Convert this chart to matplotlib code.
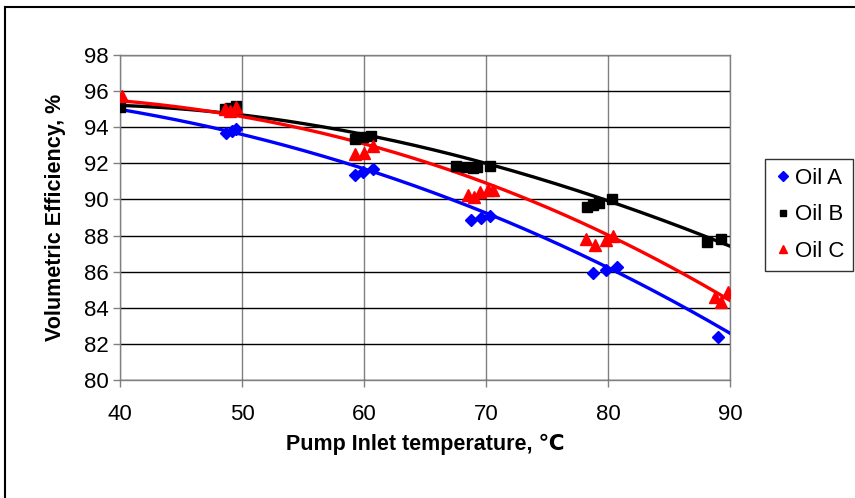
import numpy as np
import matplotlib
matplotlib.use("Agg")
import matplotlib.pyplot as plt
from matplotlib.lines import Line2D

plt.rcParams['font.family'] = ['Liberation Sans', 'DejaVu Sans']

temp_a = [48.7, 49.2, 49.5, 59.3, 59.9, 60.7, 68.8, 69.6, 70.3, 78.8, 79.8, 80.7, 89.0]
eff_a = [93.7, 93.8, 93.9, 91.35, 91.5, 91.7, 88.85, 89.0, 89.1, 85.95, 86.1, 86.25, 82.4]

temp_b = [40.0, 48.6, 49.0, 49.5, 59.3, 59.9, 60.6, 67.5, 68.4, 68.9, 69.3, 70.3,
          78.3, 78.8, 79.3, 80.3, 88.1, 89.3]
eff_b = [95.1, 95.0, 95.05, 95.2, 93.35, 93.45, 93.5, 91.85, 91.8, 91.75, 91.8, 91.85,
         89.6, 89.7, 89.8, 90.0, 87.65, 87.8]

temp_c = [40.2, 48.6, 49.0, 49.5, 59.3, 60.0, 60.7, 68.5, 69.0, 69.5, 70.2, 70.6,
          78.2, 78.9, 79.8, 80.4, 88.8, 89.3, 89.8]
eff_c = [95.75, 95.0, 94.9, 95.1, 92.5, 92.6, 92.95, 90.25, 90.15, 90.4, 90.55, 90.5,
         87.8, 87.5, 87.75, 88.0, 84.6, 84.3, 84.85]

# trendline values read at 40, 50, ... 90
trend_t = [40, 50, 60, 70, 80, 90]
trend_a = [95.0, 93.55, 91.75, 89.25, 86.2, 82.6]
trend_b = [95.2, 94.7, 93.6, 91.95, 89.97, 87.4]
trend_c = [95.45, 94.65, 93.0, 90.95, 88.03, 84.4]

series = [
    ("Oil A", temp_a, eff_a, trend_a, "#0000FF", "D", 6.5),
    ("Oil B", temp_b, eff_b, trend_b, "#000000", "s", 6.5),
    ("Oil C", temp_c, eff_c, trend_c, "#FF0000", "^", 8),
]

fig = plt.figure(figsize=(8.55, 4.98), dpi=100)
ax = fig.add_axes([120 / 855, 1 - 380 / 498, 610 / 855, 325 / 498])

xs = np.linspace(40, 90, 200)
handles = []
for name, t, e, tr, col, mk, ms in series:
    ax.plot(t, e, linestyle="none", marker=mk, color=col, markersize=ms, zorder=4)
    # smooth trendline through the read values
    coef = np.polyfit(trend_t, tr, 3)
    ax.plot(xs, np.polyval(coef, xs), color=col, linewidth=2.4, zorder=3)
    handles.append(Line2D([], [], linestyle="none", marker=mk, color=col,
                          markersize=ms * 0.75, label=name))

ax.set_xlim(40, 90)
ax.set_ylim(80, 98)
ax.set_xticks(range(40, 91, 10))
ax.set_yticks(range(80, 99, 2))
ax.grid(axis="y", color="black", linewidth=1)
ax.grid(axis="x", color="#808080", linewidth=1)
ax.set_axisbelow(True)
for s in ax.spines.values():
    s.set_color("#808080")
    s.set_linewidth(1)
ax.tick_params(axis="both", colors="#808080", labelcolor="black", length=5,
               width=1, labelsize=16)
ax.tick_params(axis="x", pad=12)
ax.tick_params(axis="y", pad=3)

ax.set_xlabel("Pump Inlet temperature, \u2103", fontsize=15.5, fontweight="bold", labelpad=7)
ax.set_ylabel("Volumetric Efficiency, %", fontsize=15.5, fontweight="bold", labelpad=13)

leg = fig.legend(handles=handles, loc="upper left", bbox_to_anchor=(765 / 855, 1 - 159 / 498),
                 fontsize=16, frameon=True, fancybox=False, handletextpad=0.15,
                 handlelength=0.8, labelspacing=0.7, borderpad=0.4, borderaxespad=0)
leg.get_frame().set_edgecolor("black")
leg.get_frame().set_linewidth(1)

# outer chart border (only top and left edges visible)
fig.add_artist(Line2D([5 / 855, 5 / 855], [0, 1 - 7 / 498], color="black", linewidth=1.5,
                      transform=fig.transFigure))
fig.add_artist(Line2D([5 / 855, 1], [1 - 7 / 498, 1 - 7 / 498], color="black", linewidth=1.5,
                      transform=fig.transFigure))

fig.savefig("out.png", dpi=100)
